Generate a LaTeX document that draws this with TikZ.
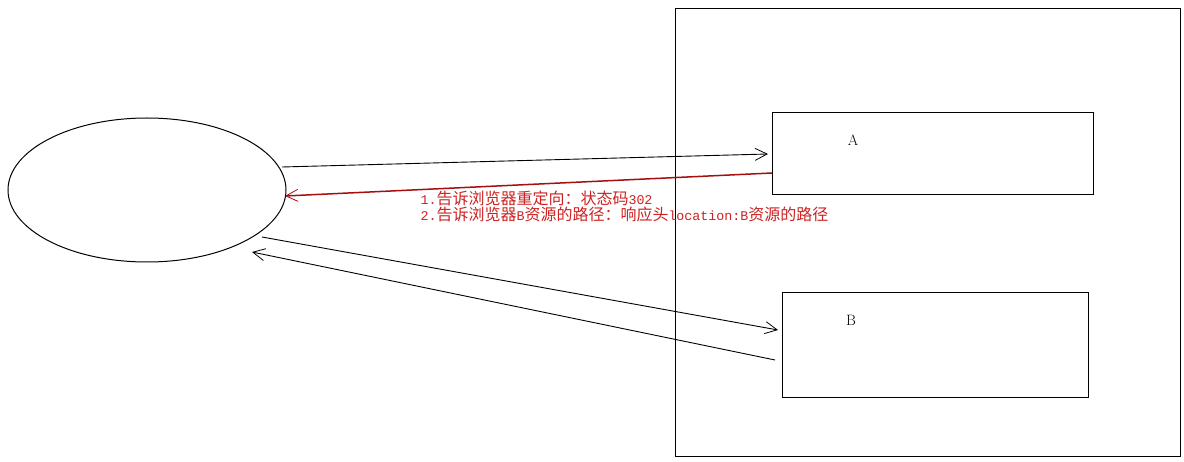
\documentclass[tikz,border=0pt]{standalone}
\usepackage{fontspec}
\usetikzlibrary{shapes.geometric,arrows.meta}
\newfontfamily\cjkf{Noto Sans CJK SC}
\newfontfamily\monof{Liberation Mono}
\newcommand{\CJ}[1]{{\fontsize{16pt}{16pt}\cjkf #1}}
\newcommand{\MO}[1]{{\fontsize{13.33pt}{16pt}\monof #1}}
\definecolor{redline}{RGB}{165,15,15}
\definecolor{redtext}{RGB}{205,35,35}
\begin{document}
\begin{tikzpicture}[x=1pt,y=-1pt,line width=1pt,
  box/.style={draw,rectangle,inner sep=0pt,anchor=north west},
  lab/.style={font=\fontsize{15pt}{15pt}\selectfont,inner sep=0pt},
  arr/.style={-{Straight Barb[length=12pt,width=12pt,line width=0.8pt]},line width=0.9pt},
  note/.style={text=redtext,inner sep=0pt,anchor=base west}]
\useasboundingbox (0,0) rectangle (1184,462);
\fill[white] (0,0) rectangle (1184,462);
\node[draw,ellipse,minimum width=278pt,minimum height=144pt,inner sep=0pt] (browser) at (147,190) {};
\node[box,minimum width=505pt,minimum height=448pt] (server) at (675,8) {};
\node[box,minimum width=321pt,minimum height=82pt] (boxA) at (772,112) {};
\node[box,minimum width=306pt,minimum height=105pt] (boxB) at (782,292) {};
\node[lab] (labA) at (853,140) {A};
\node[lab] (labB) at (851,320) {B};
\coordinate (p1) at (282,167);
\coordinate (p2) at (768,154);
\coordinate (p3) at (772,173);
\coordinate (p4) at (285,196);
\coordinate (p5) at (262,237);
\coordinate (p6) at (778,330);
\coordinate (p7) at (775,360);
\coordinate (p8) at (252,252);
\draw[arr] (p1) -- (p2);
\draw[arr,draw=redline,line width=1.5pt] (p3) -- (p4);
\draw[arr] (p5) -- (p6);
\draw[arr] (p7) -- (p8);
\node[note] (t1) at (420,205) {\MO{1.}\CJ{告诉浏览器重定向：状态码}\MO{302}};
\node[note] (t2) at (420,221) {\MO{2.}\CJ{告诉浏览器}\MO{B}\CJ{资源的路径：响应头}\MO{location:B}\CJ{资源的路径}};
\end{tikzpicture}
\end{document}
